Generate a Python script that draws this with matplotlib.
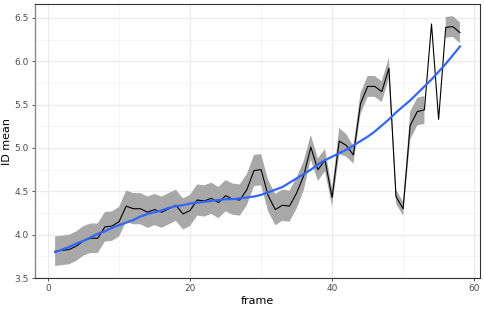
import numpy as np
import matplotlib
matplotlib.use("Agg")
import matplotlib.pyplot as plt
from matplotlib.ticker import MultipleLocator, FormatStrFormatter

# per-frame mean of ID
frame = np.arange(1, 59)
id_mean = [3.81, 3.82, 3.83, 3.87, 3.93, 3.96, 3.96, 4.09, 4.10, 4.15,
           4.33, 4.30, 4.30, 4.26, 4.29, 4.26, 4.30, 4.34, 4.24, 4.28,
           4.40, 4.39, 4.42, 4.37, 4.45, 4.41, 4.40, 4.52, 4.74, 4.75,
           4.45, 4.29, 4.34, 4.33, 4.48, 4.68, 5.01, 4.75, 4.86, 4.43,
           5.08, 5.03, 4.92, 5.51, 5.71, 5.71, 5.65, 5.92, 4.44, 4.30,
           5.26, 5.42, 5.44, 6.43, 5.33, 6.39, 6.40, 6.33]

# half width of the grey band (nan where no band is drawn)
ci_half = [0.17, 0.17, 0.17, 0.17, 0.17, 0.17, 0.17, 0.17, 0.17, 0.17,
           0.18, 0.18, 0.18, 0.18, 0.18, 0.18, 0.18, 0.18, 0.18, 0.18,
           0.18, 0.18, 0.18, 0.18, 0.18, 0.18, 0.18, 0.18, 0.18, 0.18,
           0.18, 0.18, 0.18, 0.18, 0.18, 0.17, 0.14, 0.13, 0.13, 0.10,
           0.15, 0.13, 0.10, 0.12, 0.12, 0.12, 0.12, 0.12, 0.08, 0.08,
           0.16, 0.16, 0.16, np.nan, np.nan, 0.12, 0.12, 0.12]

# smoothed trend (blue curve), read at each frame
trend = [3.80, 3.83, 3.86, 3.90, 3.93, 3.97, 4.01, 4.04, 4.08, 4.11,
         4.14, 4.17, 4.21, 4.24, 4.26, 4.28, 4.31, 4.33, 4.34, 4.36,
         4.37, 4.38, 4.39, 4.40, 4.41, 4.41, 4.42, 4.43, 4.44, 4.46,
         4.49, 4.52, 4.55, 4.60, 4.65, 4.70, 4.75, 4.81, 4.86, 4.90,
         4.94, 4.98, 5.03, 5.08, 5.13, 5.19, 5.26, 5.33, 5.41, 5.48,
         5.55, 5.63, 5.71, 5.79, 5.88, 5.97, 6.07, 6.17]

mean = np.array(id_mean)
half = np.array(ci_half)

fig = plt.figure(figsize=(4.85, 3.09), dpi=100)
ax = fig.add_axes([0.072, 0.100, 0.918, 0.887])

ax.fill_between(frame, mean - half, mean + half, color="#A8A8A8", lw=0, zorder=2)
ax.plot(frame, mean, color="black", lw=0.8, zorder=3)
ax.plot(frame, trend, color="#3366FF", lw=1.6, zorder=4)

ax.set_xlim(-1.85, 60.85)
ax.set_ylim(3.5, 6.66)
ax.xaxis.set_major_locator(MultipleLocator(20))
ax.xaxis.set_minor_locator(MultipleLocator(10))
ax.yaxis.set_major_locator(MultipleLocator(0.5))
ax.yaxis.set_minor_locator(MultipleLocator(0.25))
ax.yaxis.set_major_formatter(FormatStrFormatter("%.1f"))

ax.grid(which="major", color="#EBEBEB", lw=0.9, zorder=0)
ax.grid(which="minor", color="#F2F2F2", lw=0.5, zorder=0)
ax.set_axisbelow(True)

for side in ["top", "right", "bottom"]:
    ax.spines[side].set_color("#333333")
    ax.spines[side].set_linewidth(0.8)
ax.spines["left"].set_color("#888888")
ax.spines["left"].set_linewidth(1.0)

ax.tick_params(which="major", length=2.5, width=0.6, color="#333333",
               labelsize=6.5, labelcolor="#4D4D4D", pad=2)
ax.tick_params(which="minor", length=0)

ax.set_xlabel("frame", fontsize=8, labelpad=2)
ax.set_ylabel("ID mean", fontsize=8)
ax.yaxis.set_label_coords(-0.052, 0.5)

fig.savefig("out.png", dpi=100)
